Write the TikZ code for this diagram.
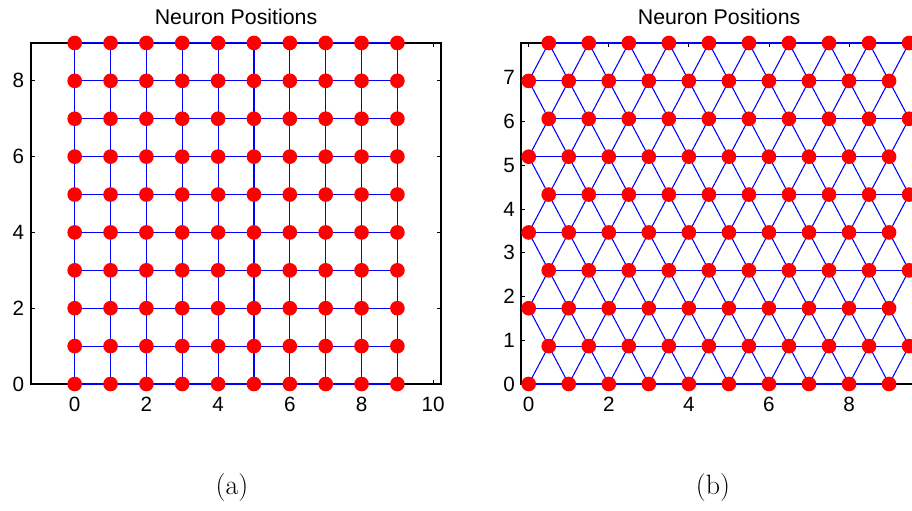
\documentclass[tikz,border=0pt]{standalone}
\usepackage{fontspec}
\newfontfamily\plotfont{Liberation Sans}
\definecolor{linkblue}{HTML}{0000FF}
\definecolor{neuronred}{HTML}{FF0000}

\begin{document}
\begin{tikzpicture}[x=0.75pt,y=0.75pt,
    neuron/.style={circle,fill=neuronred,inner sep=0pt,minimum size=11pt},
    link/.style={draw=linkblue,line width=0.8pt},
    frame/.style={draw=black,line width=1pt},
    tickmark/.style={draw=black,line width=0.6pt},
    ticklabel/.style={inner sep=0pt,font=\plotfont\fontsize{15.5}{17}\selectfont},
    plottitle/.style={inner sep=0pt,font=\plotfont\fontsize{16}{18}\selectfont},
    sublabel/.style={inner sep=0pt,font=\fontsize{21}{24}\selectfont}]
  \useasboundingbox (0,0) rectangle (912,510);

  % (a) square lattice
  \begin{scope}[shift={(74.7,126)},x=26.89pt,y=28.42pt]
    \foreach \i in {0,...,9}
      \foreach \j in {0,...,9}
        \coordinate (g-\i-\j) at (\i,\j);
    \draw[frame] (-1.22,0) rectangle (10.22,9);
    \foreach \t in {0,2,...,10} {
      \draw[tickmark] (\t,0) -- ++(0,3pt);
      \draw[tickmark] (\t,9) -- ++(0,-3pt);
    }
    \foreach \t in {0,2,...,8} {
      \draw[tickmark] (-1.22,\t) -- ++(3pt,0);
      \draw[tickmark] (10.22,\t) -- ++(-3pt,0);
    }
    \foreach \j in {0,...,9}
      \foreach \i in {0,...,8} {
        \pgfmathtruncatemacro\nx{\i+1}
        \draw[link] (g-\i-\j) -- (g-\nx-\j);
        \draw[link] (g-\j-\i) -- (g-\j-\nx);
      }
    \foreach \i in {0,...,9}
      \foreach \j in {0,...,9}
        \node[neuron] (ng-\i-\j) at (g-\i-\j) {};
    \foreach \t in {0,2,...,10}
      \node[ticklabel,anchor=north,yshift=-9.75pt] (xa-\t) at (\t,0) {\t};
    \foreach \t in {0,2,...,8}
      \node[ticklabel,anchor=east,xshift=-5pt] (ya-\t) at (-1.22,\t) {\t};
    \node[plottitle,yshift=19.5pt] (title-a) at (4.5,9) {Neuron Positions};
  \end{scope}

  % (b) hexagonal lattice
  \begin{scope}[shift={(528.7,126)},x=30.03pt,y=32.81pt]
    \foreach \j in {0,...,9}
      \foreach \i in {0,...,9} {
        \pgfmathsetmacro\hx{\i+0.5*mod(\j,2)}
        \pgfmathsetmacro\hy{\j*0.8660254}
        \coordinate (h-\i-\j) at (\hx,\hy);
      }
    \draw[frame] (-0.19,0) rectangle (9.7,7.7942);
    \foreach \t in {0,2,...,8} {
      \draw[tickmark] (\t,0) -- ++(0,3pt);
      \draw[tickmark] (\t,7.7942) -- ++(0,-3pt);
    }
    \foreach \t in {0,...,7} {
      \draw[tickmark] (-0.19,\t) -- ++(3pt,0);
      \draw[tickmark] (9.7,\t) -- ++(-3pt,0);
    }
    % rows
    \foreach \j in {0,...,9}
      \foreach \i in {0,...,8} {
        \pgfmathtruncatemacro\nx{\i+1}
        \draw[link] (h-\i-\j) -- (h-\nx-\j);
      }
    % diagonals to the next row
    \foreach \j in {0,...,8} {
      \pgfmathtruncatemacro\k{\j+1}
      \foreach \i in {0,...,9} {
        \draw[link] (h-\i-\j) -- (h-\i-\k);
        \ifodd\j\relax
          \ifnum\i<9 \pgfmathtruncatemacro\m{\i+1}\draw[link] (h-\i-\j) -- (h-\m-\k);\fi
        \else
          \ifnum\i>0 \pgfmathtruncatemacro\m{\i-1}\draw[link] (h-\i-\j) -- (h-\m-\k);\fi
        \fi
      }
    }
    \foreach \j in {0,...,9}
      \foreach \i in {0,...,9}
        \node[neuron] (nh-\i-\j) at (h-\i-\j) {};
    \foreach \t in {0,2,...,8}
      \node[ticklabel,anchor=north,yshift=-9.75pt] (xb-\t) at (\t,0) {\t};
    \foreach \t in {0,...,7}
      \node[ticklabel,anchor=east,xshift=-4.5pt] (yb-\t) at (-0.19,\t) {\t};
    \node[plottitle,yshift=19.5pt] (title-b) at (4.755,7.7942) {Neuron Positions};
  \end{scope}

  \node[sublabel] (cap-a) at (232,22) {(a)};
  \node[sublabel] (cap-b) at (713,22) {(b)};
\end{tikzpicture}
\end{document}
